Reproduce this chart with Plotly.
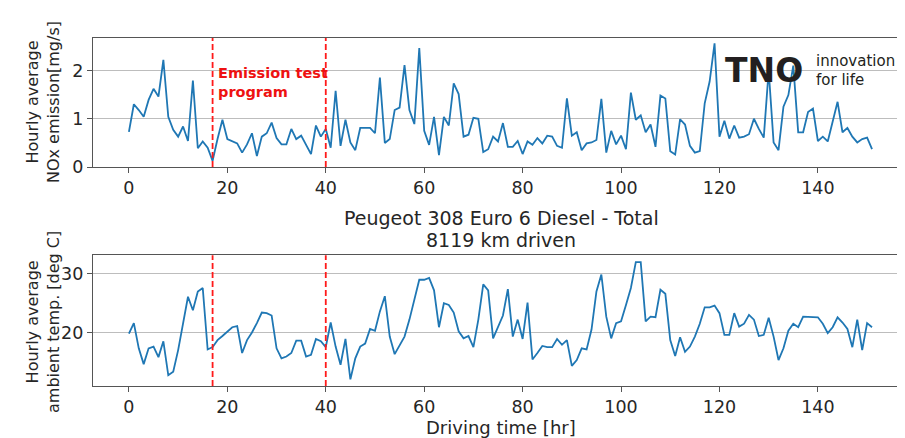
import plotly.graph_objects as go

# ---------------- data ----------------
hours = list(range(152))

nox_mg_s = [
    0.73, 1.30, 1.18, 1.04, 1.39, 1.62, 1.46, 2.22, 1.04, 0.77,
    0.63, 0.84, 0.54, 1.79, 0.39, 0.53, 0.40, 0.13, 0.58, 0.98,
    0.58, 0.53, 0.49, 0.30, 0.47, 0.70, 0.23, 0.63, 0.70, 0.92,
    0.60, 0.47, 0.47, 0.79, 0.58, 0.65, 0.46, 0.27, 0.86, 0.63,
    0.79, 0.40, 1.58, 0.44, 0.98, 0.51, 0.35, 0.81, 0.81, 0.81,
    0.70, 1.85, 0.50, 0.58, 1.18, 1.23, 2.11, 1.18, 0.89, 2.46,
    0.75, 0.46, 1.04, 0.25, 1.04, 0.86, 1.73, 1.51, 0.63, 0.67,
    1.02, 1.00, 0.31, 0.37, 0.63, 0.53, 0.91, 0.42, 0.42, 0.54,
    0.27, 0.53, 0.46, 0.60, 0.49, 0.65, 0.63, 0.44, 0.40, 1.42,
    0.65, 0.72, 0.35, 0.49, 0.51, 0.56, 1.41, 0.30, 0.75, 0.47,
    0.65, 0.37, 1.54, 0.98, 1.07, 0.72, 0.88, 0.42, 1.48, 1.42,
    0.33, 0.26, 0.99, 0.88, 0.44, 0.30, 0.33, 1.32, 1.77, 2.56,
    0.63, 0.96, 0.59, 0.86, 0.61, 0.63, 0.68, 1.00, 0.79, 0.61,
    2.00, 0.51, 0.35, 1.25, 1.49, 2.10, 0.72, 0.72, 1.14, 1.21,
    0.54, 0.63, 0.53, 0.96, 1.35, 0.72, 0.81, 0.63, 0.51, 0.58,
    0.61, 0.37,
]

temp_deg_c = [
    19.8, 21.6, 17.3, 14.6, 17.3, 17.6, 15.8, 18.5, 12.7, 13.3,
    17.0, 21.3, 26.1, 23.8, 27.0, 27.6, 17.1, 17.5, 18.7, 19.4,
    20.2, 20.9, 21.1, 16.5, 18.7, 20.0, 21.6, 23.4, 23.3, 22.9,
    17.3, 15.6, 15.9, 16.5, 18.6, 18.6, 15.9, 16.2, 18.9, 18.5,
    17.5, 21.7, 17.6, 14.5, 18.9, 12.0, 15.6, 17.6, 18.1, 20.6,
    20.3, 23.6, 26.2, 19.3, 16.3, 17.9, 19.3, 22.2, 25.7, 29.0,
    29.0, 29.3, 27.2, 20.9, 25.0, 24.7, 23.4, 20.2, 19.0, 19.4,
    17.5, 22.2, 28.2, 27.2, 19.0, 21.0, 22.9, 27.4, 19.3, 22.2,
    18.9, 25.1, 15.4, 16.5, 17.7, 17.5, 17.5, 18.9, 17.9, 18.7,
    14.3, 15.3, 17.3, 17.1, 20.5, 27.0, 29.9, 22.7, 19.0, 21.6,
    21.9, 24.7, 27.6, 32.0, 32.0, 21.9, 22.7, 22.6, 27.3, 26.6,
    18.7, 16.0, 19.2, 16.7, 17.6, 19.3, 21.5, 24.3, 24.3, 24.6,
    23.3, 19.6, 19.6, 23.3, 21.0, 21.5, 23.0, 22.2, 19.4, 19.6,
    22.5, 19.3, 15.3, 17.3, 20.3, 21.5, 20.9, 22.7, 22.7, 22.7,
    22.6, 21.5, 19.9, 20.9, 22.6, 21.7, 20.6, 17.5, 22.2, 17.0,
    21.6, 20.9,
]

test_program_hours = [17, 40]

title_lines = ["Peugeot 308 Euro 6 Diesel - Total", "8119 km driven"]
nox_label = ["Hourly average", "NOx emission[mg/s]"]
temp_label = ["Hourly average", "ambient temp. [deg C]"]
x_label = "Driving time [hr]"
test_label = ["Emission test", "program"]

# ---------------- figure ----------------
LINE = "#1f77b4"
FONT = "DejaVu Sans"
TXT = "#262626"

fig = go.Figure()
fig.add_trace(go.Scatter(x=hours, y=nox_mg_s, mode="lines",
                         line=dict(color=LINE, width=1.8),
                         xaxis="x", yaxis="y", showlegend=False))
fig.add_trace(go.Scatter(x=hours, y=temp_deg_c, mode="lines",
                         line=dict(color=LINE, width=1.8),
                         xaxis="x2", yaxis="y2", showlegend=False))

axis_common = dict(
    showline=True, mirror=True, linecolor="#555555", linewidth=1.3,
    ticks="outside", ticklen=5, tickcolor="#555555",
    tickfont=dict(family=FONT, size=17.5, color=TXT),
    zeroline=False,
)
xrange = [-7.3, 157.7]

# page body has an 8px margin -> figure is 8px smaller than the window
fig.update_layout(
    width=897, height=430,
    paper_bgcolor="white", plot_bgcolor="white",
    margin=dict(l=85, r=0, t=30, b=52),
    xaxis=dict(domain=[0, 1], range=xrange, tickvals=list(range(0, 160, 20)),
               showgrid=False, anchor="y", **axis_common),
    yaxis=dict(domain=[0.629, 1], range=[0, 2.67], tickvals=[0, 1, 2],
               showgrid=True, gridcolor="#bdbdbd", gridwidth=1,
               anchor="x", **axis_common),
    xaxis2=dict(domain=[0, 1], range=xrange, tickvals=list(range(0, 160, 20)),
                showgrid=False, anchor="y2", **axis_common),
    yaxis2=dict(domain=[0, 0.376], range=[10.87, 33.2], tickvals=[20, 30],
                showgrid=True, gridcolor="#bdbdbd", gridwidth=1,
                anchor="x2", **axis_common),
)

shapes = []
for h in test_program_hours:
    for xr, yr in (("x", "y domain"), ("x2", "y2 domain")):
        shapes.append(dict(type="line", xref=xr, yref=yr, x0=h, x1=h, y0=0, y1=1,
                           line=dict(color="#ff1a1a", width=1.8, dash="6px,3px"),
                           layer="above"))
fig.update_layout(shapes=shapes)

ann = []
# emission test program label
ann.append(dict(xref="x", yref="y", x=test_program_hours[0] + 0.7, y=2.15,
                xanchor="left", yanchor="top", align="left", showarrow=False,
                text="<b>" + "<br>".join(test_label) + "</b>",
                font=dict(family=FONT, size=14.5, color="#ee1111")))
# title between panels
ann.append(dict(xref="paper", yref="paper", x=(501 - 93) / 812, y=(386 - 218) / 348,
                xanchor="center", yanchor="middle", showarrow=False,
                text=title_lines[0], font=dict(family=FONT, size=19, color=TXT)))
ann.append(dict(xref="paper", yref="paper", x=(501 - 93) / 812, y=(386 - 240) / 348,
                xanchor="center", yanchor="middle", showarrow=False,
                text=title_lines[1], font=dict(family=FONT, size=19, color=TXT)))
# y labels
ann.append(dict(xref="paper", yref="paper", x=(43 - 93) / 812, y=(386 - 102) / 348,
                xanchor="center", yanchor="middle", showarrow=False, textangle=-90,
                text="<br>".join(nox_label), font=dict(family=FONT, size=16, color=TXT)))
ann.append(dict(xref="paper", yref="paper", x=(43 - 93) / 812, y=(386 - 322) / 348,
                xanchor="center", yanchor="middle", showarrow=False, textangle=-90,
                text="<br>".join(temp_label), font=dict(family=FONT, size=16, color=TXT)))
# x label
ann.append(dict(xref="paper", yref="paper", x=(501 - 93) / 812, y=(386 - 427) / 348,
                xanchor="center", yanchor="middle", showarrow=False,
                text=x_label, font=dict(family=FONT, size=18, color=TXT)))
# TNO logo (as text)
ann.append(dict(xref="paper", yref="paper", x=(724 - 93) / 812, y=(386 - 70) / 348,
                xanchor="left", yanchor="middle", showarrow=False, borderpad=0,
                text="<b>TNO</b>", font=dict(family=FONT, size=33, color="#231f20")))
ann.append(dict(xref="paper", yref="paper", x=(815 - 93) / 812, y=(386 - 60.5) / 348,
                xanchor="left", yanchor="middle", showarrow=False, borderpad=0,
                text="innovation", font=dict(family=FONT, size=15, color="#231f20")))
ann.append(dict(xref="paper", yref="paper", x=(815 - 93) / 812, y=(386 - 80) / 348,
                xanchor="left", yanchor="middle", showarrow=False, borderpad=0,
                text="for life", font=dict(family=FONT, size=15, color="#231f20")))
fig.update_layout(annotations=ann)

fig.write_html("out.html")
